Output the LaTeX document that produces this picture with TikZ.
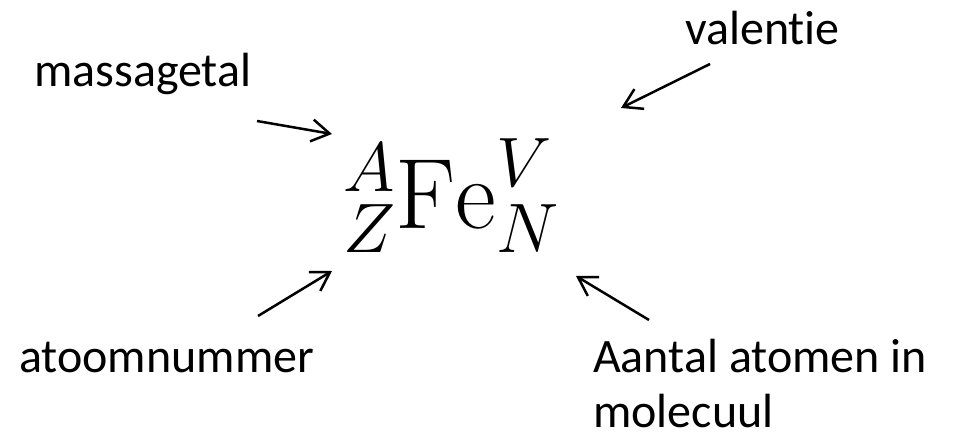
\RequirePackage{fix-cm}
\documentclass[tikz,border=0pt]{standalone}
\usepackage{amsmath}
\usepackage{fontspec}
\newfontfamily\calibri[Ligatures=NoCommon]{Carlito}
\usepackage{tikz}
\usetikzlibrary{arrows.meta}
\tikzset{>={Straight Barb[length=18pt,width=22pt]}}
\tikzset{label text/.style={font=\calibri\fontsize{48}{55}\selectfont, inner sep=0pt, align=left, anchor=base west}}

\begin{document}
\begin{tikzpicture}[x=1pt, y=-1pt]
    \useasboundingbox (0, 0) rectangle (953, 436);

    \node[anchor=base, inner sep=0pt, font=\fontsize{100}{120}\selectfont] (fe) at (451, 228) {${}^{A}_{Z}\mathrm{Fe}^{V}_{N}$};

    \node[label text] (massagetal) at (34, 86) {massagetal};
    \node[label text] (valentie) at (685, 45) {valentie};
    \node[label text] (atoomnummer) at (19, 372) {atoomnummer};
    \node[label text] (aantal) at (593, 427) {Aantal atomen in\\molecuul};

    \coordinate (massa start) at (257, 121);
    \coordinate (massa end) at (332, 134);
    \coordinate (val start) at (710, 64);
    \coordinate (val end) at (621, 108);
    \coordinate (atoom start) at (258, 316);
    \coordinate (atoom end) at (332, 271);
    \coordinate (aantal start) at (649, 320);
    \coordinate (aantal end) at (576, 276);

    \draw[->, line width=2.5pt] (massa start) -- (massa end);
    \draw[->, line width=2.5pt] (val start) -- (val end);
    \draw[->, line width=2.5pt] (atoom start) -- (atoom end);
    \draw[->, line width=2.5pt] (aantal start) -- (aantal end);

\end{tikzpicture}
\end{document}
